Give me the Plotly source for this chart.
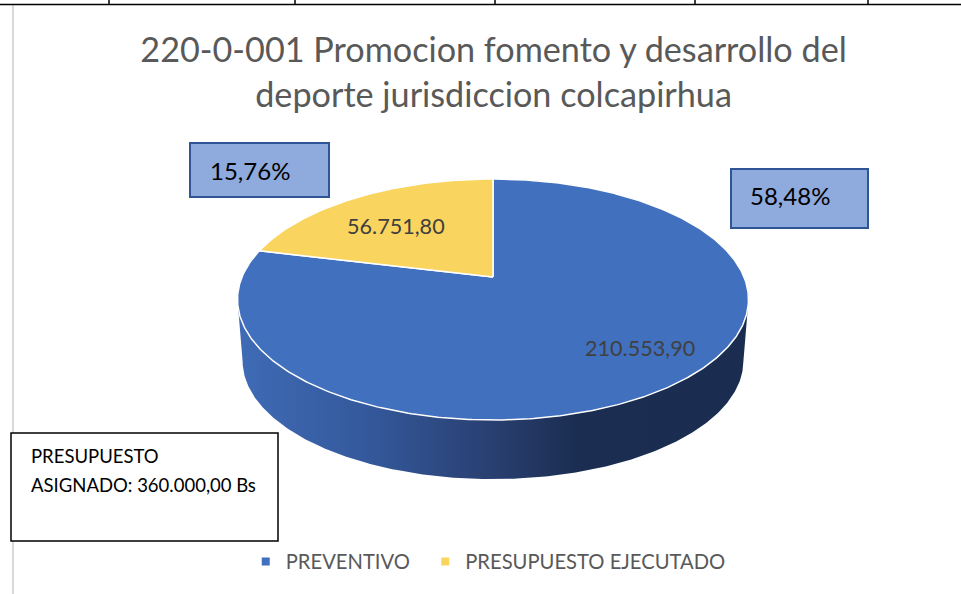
import numpy as np
import plotly.graph_objects as go

TITLE = "220-0-001 Promocion fomento y desarrollo del<br>deporte jurisdiccion colcapirhua"
categories = ["PREVENTIVO", "PRESUPUESTO EJECUTADO"]
values = [210553.90, 56751.80]
percent_labels = ["58,48%", "15,76%"]
assigned = 360000.00
colors = ["#4170BE", "#F9D55F"]
FONT = "Lato"


def money(v):
    return f"{v:,.2f}".replace(",", "#").replace(".", ",").replace("#", ".")


# Perspective view of the pie disc, expressed in the chart's drawing space
CX, CY, A, B, K = 493.0, 277.0, 251.0, 116.3, 0.1867
DEPTH, SHRINK = 62.0, 0.98


def project(theta, r=1.0):
    """theta is clockwise from 12 o'clock."""
    u, v = r * np.sin(theta), r * np.cos(theta)
    w = 1 + K * v
    return CX + A * u / w, CY - B * v / w


total = sum(values)
yellow_sweep = 2 * np.pi * values[1] / total
start_blue = 0.0
end_blue = 2 * np.pi - yellow_sweep

fig = go.Figure()

# side wall
t = np.linspace(0, 2 * np.pi, 721)
tx, ty = project(t)
bx = CX + SHRINK * (tx - CX)
by = CY + SHRINK * (ty - CY) + DEPTH
il, ir = int(np.argmin(tx)), int(np.argmax(tx))
jl, jr = int(np.argmin(bx)), int(np.argmax(bx))
lower_b = np.arange(jr, jl + 1)
upper_t = np.r_[np.arange(il, 721), np.arange(0, ir + 1)]
sx = np.r_[bx[lower_b], tx[upper_t], bx[jr]]
sy = np.r_[by[lower_b], ty[upper_t], by[jr]]
fig.add_trace(go.Scatter(
    x=sx, y=sy, mode="lines", line=dict(width=0), fill="toself", showlegend=False, hoverinfo="skip",
    fillgradient=dict(type="horizontal", start=238, stop=748, colorscale=[
        [0.0, "#3F6BB6"], [0.25, "#34599C"], [0.5, "#293F70"], [0.66, "#1B2E52"], [1.0, "#1A2D50"]]),
))


def wedge(a0, a1):
    th = np.linspace(a0, a1, max(3, int(abs(a1 - a0) * 90)))
    x, y = project(th)
    return np.r_[CX, x, CX], np.r_[CY, y, CY]


for (a0, a1), col, name in [((start_blue, end_blue), colors[0], categories[0]),
                            ((end_blue, 2 * np.pi), colors[1], categories[1])]:
    x, y = wedge(a0, a1)
    fig.add_trace(go.Scatter(x=x, y=y, mode="lines", fill="toself", fillcolor=col,
                             line=dict(color="#FFFFFF", width=1.5), showlegend=False,
                             name=name, hoverinfo="name"))

# legend entries (no-break spaces widen the gap between the two entries)
for i, (name, col) in enumerate(zip(categories, colors)):
    label = name + ("\u00a0\u00a0" if i == 0 else "")
    fig.add_trace(go.Scatter(x=[None], y=[None], mode="markers", name=label,
                             marker=dict(symbol="square", size=8, color=col)))


def note(x, y, text, size, color, anchor="left"):
    fig.add_annotation(x=x, y=y, xref="x", yref="y", text=text, showarrow=False, xanchor=anchor,
                       yanchor="middle", font=dict(family=FONT, size=size, color=color))


shapes = [
    dict(type="rect", x0=190, x1=329, y0=143, y1=197, fillcolor="#8FAADC", line=dict(color="#2F5597", width=2)),
    dict(type="rect", x0=731, x1=868, y0=169, y1=228, fillcolor="#8FAADC", line=dict(color="#2F5597", width=2)),
    dict(type="rect", x0=11, x1=278, y0=433, y1=541, fillcolor="#FFFFFF", line=dict(color="#000000", width=1.5)),
    dict(type="line", x0=13, x1=13, y0=5, y1=594, line=dict(color="#D9D9D9", width=2), layer="below"),
    dict(type="line", x0=0, x1=961, y0=4.5, y1=4.5, line=dict(color="#000000", width=1.5)),
]
for xt in [109, 295, 495, 695, 868]:
    shapes.append(dict(type="line", x0=xt, x1=xt, y0=0, y1=4.5, line=dict(color="#000000", width=1.5)))

note(208, 170.5, percent_labels[1], 24, "#000000")
note(748, 195.5, percent_labels[0], 24, "#000000")
note(345, 226, money(values[1]), 21.6, "#404040")
note(583, 348, money(values[0]), 21.6, "#404040")
note(29, 456, "PRESUPUESTO", 18.5, "#000000")
note(29, 485, f"ASIGNADO: {money(assigned)} Bs", 18.5, "#000000")

fig.update_layout(
    width=961, height=594, margin=dict(l=0, r=0, t=0, b=0),
    paper_bgcolor="#FFFFFF", plot_bgcolor="#FFFFFF",
    title=dict(text=TITLE, x=0.5136, xanchor="center", y=0.895, yanchor="middle",
               font=dict(family=FONT, size=34.2, color="#595959")),
    xaxis=dict(range=[0, 961], visible=False, fixedrange=True),
    yaxis=dict(range=[594, 0], visible=False, fixedrange=True),
    shapes=shapes,
    legend=dict(orientation="h", x=0.2557, xanchor="left", y=0.054, yanchor="middle",
                font=dict(family=FONT, size=20.2, color="#595959"), bgcolor="rgba(0,0,0,0)",
                itemclick=False, itemdoubleclick=False),
)
fig.write_html("out.html", post_script="document.body.style.margin='0';",
               config={"displayModeBar": False})
